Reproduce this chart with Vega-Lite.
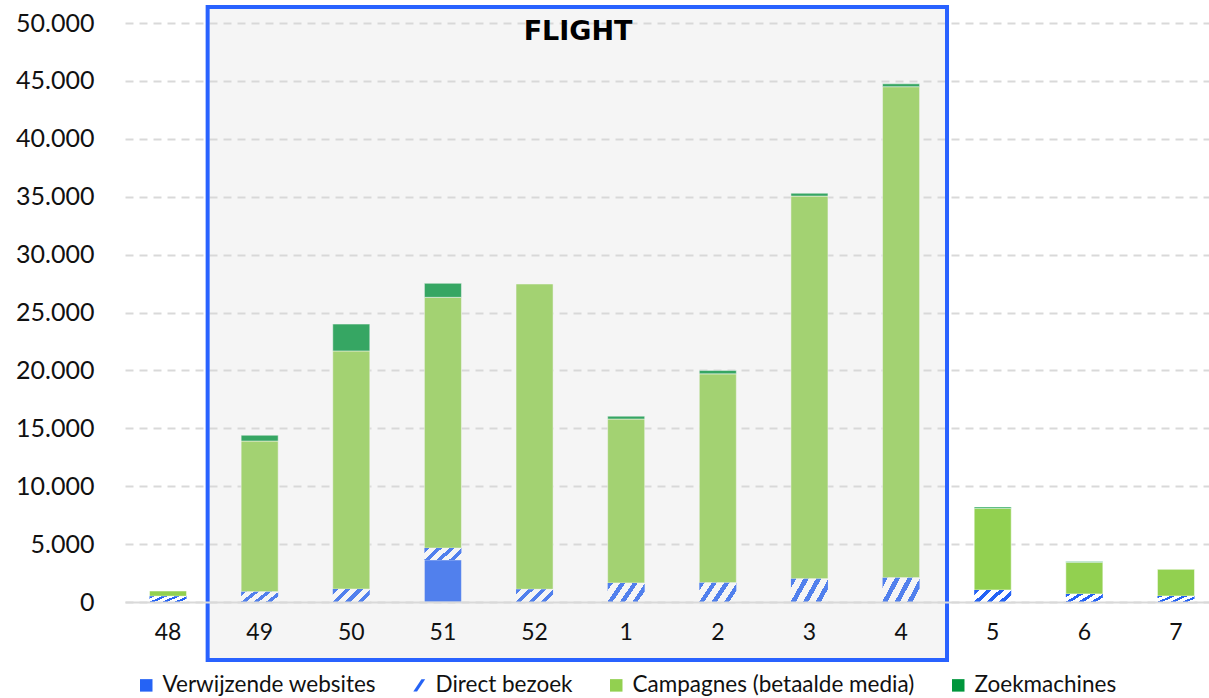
{
  "$schema": "https://vega.github.io/schema/vega-lite/v6.json",
  "width": 1084,
  "height": 579,
  "autosize": {"type": "none"},
  "padding": {"left": 125, "top": 23, "right": 0, "bottom": 96},
  "background": "white",
  "config": {"view": {"stroke": null}, "font": "Lato"},
  "data": {
    "values": [
      {"week": "48", "serie": "Direct bezoek", "value": 500, "order": 2},
      {"week": "48", "serie": "Campagnes (betaalde media)", "value": 450, "order": 3},
      {"week": "49", "serie": "Direct bezoek", "value": 890, "order": 2},
      {"week": "49", "serie": "Campagnes (betaalde media)", "value": 13010, "order": 3},
      {"week": "49", "serie": "Zoekmachines", "value": 500, "order": 4},
      {"week": "50", "serie": "Direct bezoek", "value": 1120, "order": 2},
      {"week": "50", "serie": "Campagnes (betaalde media)", "value": 20560, "order": 3},
      {"week": "50", "serie": "Zoekmachines", "value": 2320, "order": 4},
      {"week": "51", "serie": "Verwijzende websites", "value": 3630, "order": 1},
      {"week": "51", "serie": "Direct bezoek", "value": 1030, "order": 2},
      {"week": "51", "serie": "Campagnes (betaalde media)", "value": 21650, "order": 3},
      {"week": "51", "serie": "Zoekmachines", "value": 1210, "order": 4},
      {"week": "52", "serie": "Direct bezoek", "value": 1100, "order": 2},
      {"week": "52", "serie": "Campagnes (betaalde media)", "value": 26360, "order": 3},
      {"week": "1", "serie": "Direct bezoek", "value": 1650, "order": 2},
      {"week": "1", "serie": "Campagnes (betaalde media)", "value": 14150, "order": 3},
      {"week": "1", "serie": "Zoekmachines", "value": 250, "order": 4},
      {"week": "2", "serie": "Direct bezoek", "value": 1670, "order": 2},
      {"week": "2", "serie": "Campagnes (betaalde media)", "value": 18030, "order": 3},
      {"week": "2", "serie": "Zoekmachines", "value": 300, "order": 4},
      {"week": "3", "serie": "Direct bezoek", "value": 2000, "order": 2},
      {"week": "3", "serie": "Campagnes (betaalde media)", "value": 33050, "order": 3},
      {"week": "3", "serie": "Zoekmachines", "value": 250, "order": 4},
      {"week": "4", "serie": "Direct bezoek", "value": 2100, "order": 2},
      {"week": "4", "serie": "Campagnes (betaalde media)", "value": 42400, "order": 3},
      {"week": "4", "serie": "Zoekmachines", "value": 250, "order": 4},
      {"week": "5", "serie": "Direct bezoek", "value": 1040, "order": 2},
      {"week": "5", "serie": "Campagnes (betaalde media)", "value": 7060, "order": 3},
      {"week": "5", "serie": "Zoekmachines", "value": 100, "order": 4},
      {"week": "6", "serie": "Direct bezoek", "value": 700, "order": 2},
      {"week": "6", "serie": "Campagnes (betaalde media)", "value": 2730, "order": 3},
      {"week": "6", "serie": "Zoekmachines", "value": 70, "order": 4},
      {"week": "7", "serie": "Direct bezoek", "value": 520, "order": 2},
      {"week": "7", "serie": "Campagnes (betaalde media)", "value": 2300, "order": 3}
    ]
  },
  "layer": [
    {
      "transform": [
        {"stack": "value", "groupby": ["week"], "sort": [{"field": "order"}], "as": ["y0", "y1"]},
        {"filter": "datum.serie !== 'Direct bezoek'"}
      ],
      "mark": {"type": "bar", "stroke": "#ffffff", "strokeWidth": 1, "strokeOpacity": 0.5},
      "encoding": {
        "x": {
          "field": "week", "type": "nominal",
          "scale": {"domain": ["48","49","50","51","52","1","2","3","4","5","6","7"], "paddingInner": 0.596, "paddingOuter": 0.213, "align": 0.628},
          "axis": {"title": null, "labelAngle": 0, "labelFontSize": 23, "labelColor": "#111111", "ticks": false, "domainColor": "#d9d9d9", "domainWidth": 2, "labelPadding": 19, "grid": false, "zindex": 1}
        },
        "y": {
          "field": "y0", "type": "quantitative",
          "scale": {"domain": [0, 50000], "nice": false},
          "axis": {"title": null, "values": [0,5000,10000,15000,20000,25000,30000,35000,40000,45000,50000], "labelExpr": "replace(format(datum.value, ','), ',', '.')", "labelFontSize": 25, "labelColor": "#111111", "domain": false, "ticks": false, "gridDash": [8, 6], "gridColor": "#d9d9d9", "gridWidth": 2, "labelPadding": 31}
        },
        "y2": {"field": "y1"},
        "color": {
          "field": "serie", "type": "nominal",
          "scale": {"domain": ["Verwijzende websites", "Direct bezoek", "Campagnes (betaalde media)", "Zoekmachines"], "range": ["#2563f5", "#2563f5", "#92d050", "#00963c"]},
          "legend": {
            "orient": "none", "legendX": 10, "legendY": 651, "direction": "horizontal", "title": null,
            "symbolSize": 156, "symbolStrokeWidth": 0, "symbolOpacity": 1,
            "labelFontSize": 22.5, "labelFont": "Lato", "labelColor": "#111111", "labelOffset": 5, "labelLimit": 0, "columnPadding": 32
          }
        }
      }
    },
    {
      "transform": [
        {"stack": "value", "groupby": ["week"], "sort": [{"field": "order"}], "as": ["y0", "y1"]},
        {"filter": "datum.serie === 'Direct bezoek'"}
      ],
      "mark": {
        "type": "bar",
        "fill": {
          "gradient": "linear", "x1": 0, "y1": 0, "x2": 1.2027, "y2": 0.421,
          "stops": [
            {"offset": 0, "color": "#2563f5"}, {"offset": 0.105, "color": "#2563f5"},
            {"offset": 0.105, "color": "#ffffff"}, {"offset": 0.25, "color": "#ffffff"},
            {"offset": 0.25, "color": "#2563f5"}, {"offset": 0.355, "color": "#2563f5"},
            {"offset": 0.355, "color": "#ffffff"}, {"offset": 0.5, "color": "#ffffff"},
            {"offset": 0.5, "color": "#2563f5"}, {"offset": 0.605, "color": "#2563f5"},
            {"offset": 0.605, "color": "#ffffff"}, {"offset": 0.75, "color": "#ffffff"},
            {"offset": 0.75, "color": "#2563f5"}, {"offset": 0.855, "color": "#2563f5"},
            {"offset": 0.855, "color": "#ffffff"}, {"offset": 1, "color": "#ffffff"}
          ]
        }
      },
      "encoding": {
        "x": {"field": "week", "type": "nominal"},
        "y": {"field": "y0", "type": "quantitative", "scale": {"domain": [0, 50000], "nice": false}},
        "y2": {"field": "y1"}
      }
    },
    {
      "transform": [{"filter": "false"}],
      "mark": {"type": "point", "filled": true, "opacity": 1},
      "encoding": {
        "x": {"field": "week", "type": "nominal"},
        "y": {"field": "value", "type": "quantitative", "scale": {"domain": [0, 50000], "nice": false}},
        "color": {"field": "serie", "type": "nominal"},
        "shape": {
          "field": "serie", "type": "nominal",
          "scale": {"domain": ["Verwijzende websites", "Direct bezoek", "Campagnes (betaalde media)", "Zoekmachines"], "range": ["square", "M0.35,-1L0.95,-1L-0.35,1L-0.95,1Z", "square", "square"]},
          "legend": {
            "orient": "none", "legendX": 10, "legendY": 651, "direction": "horizontal", "title": null,
            "symbolSize": 156, "symbolStrokeWidth": 0, "symbolOpacity": 1,
            "labelFontSize": 22.5, "labelFont": "Lato", "labelColor": "#111111", "labelOffset": 5, "labelLimit": 0, "columnPadding": 32
          }
        }
      }
    },
    {
      "data": {"values": [{}]},
      "mark": {"type": "rect", "fill": "#d7d7d7", "fillOpacity": 0.25, "stroke": "#2962ff", "strokeWidth": 4, "clip": false},
      "encoding": {
        "x": {"datum": "49", "type": "nominal", "bandPosition": -0.905},
        "x2": {"datum": "4", "bandPosition": 1.741},
        "y": {"datum": 51380, "type": "quantitative", "scale": {"domain": [0, 50000], "nice": false}},
        "y2": {"datum": -5010}
      }
    },
    {
      "data": {"values": [{}]},
      "mark": {"type": "text", "text": "FLIGHT", "font": "DejaVu Sans", "fontWeight": "bold", "fontSize": 27, "color": "#000000", "baseline": "middle", "align": "center"},
      "encoding": {
        "x": {"datum": "52", "type": "nominal", "bandPosition": 1.676},
        "y": {"datum": 49220, "type": "quantitative", "scale": {"domain": [0, 50000], "nice": false}}
      }
    }
  ]
}
